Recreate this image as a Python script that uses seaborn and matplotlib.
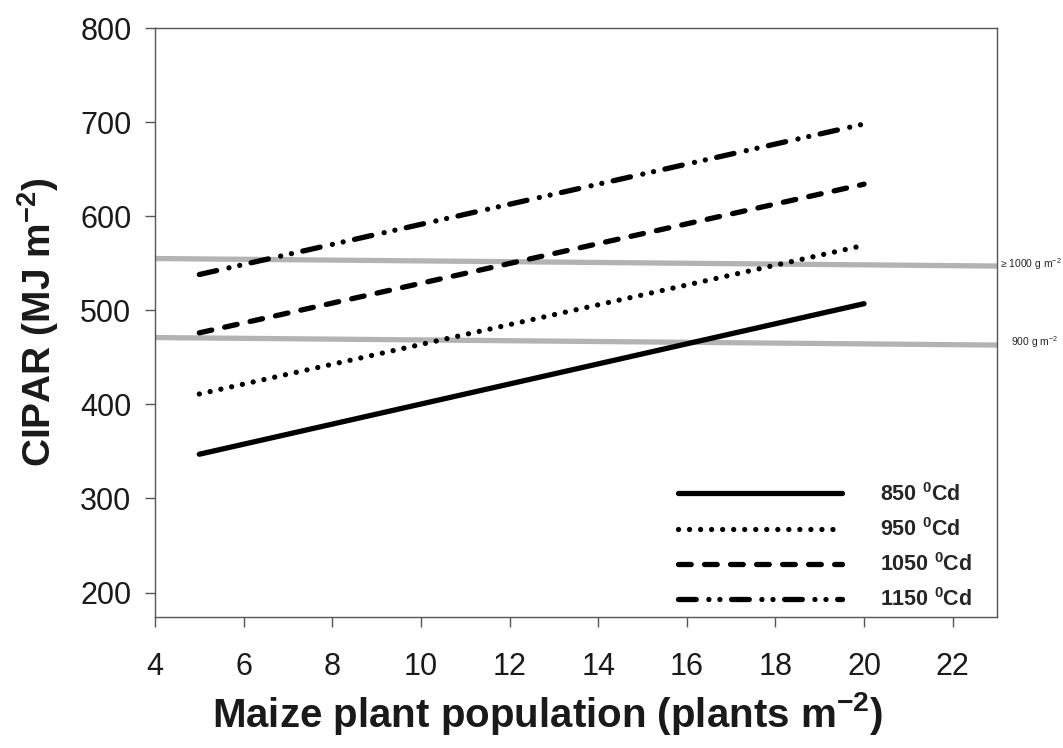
import numpy as np
import pandas as pd
import matplotlib
matplotlib.use("Agg")
import matplotlib.pyplot as plt
from matplotlib.lines import Line2D
import seaborn as sns

# ---- data ----
population = [5, 20]
thermal_time = ["850", "950", "1050", "1150"]
cipar_850 = [347, 507]
cipar_950 = [411, 569]
cipar_1050 = [476, 634]
cipar_1150 = [538, 698]
threshold_x = [4, 23]
threshold_1000 = [555, 547]
threshold_900 = [471, 463]
xticks = [4, 6, 8, 10, 12, 14, 16, 18, 20, 22]
yticks = [200, 300, 400, 500, 600, 700, 800]

sns.set_theme(style="white")
plt.rcParams['font.family'] = ['Liberation Sans', 'DejaVu Sans']
plt.rcParams['mathtext.default'] = 'regular'

df = pd.DataFrame({
    "population": population * 4,
    "cipar": cipar_850 + cipar_950 + cipar_1050 + cipar_1150,
    "tt": sum([[t] * len(population) for t in thermal_time], []),
})

fig = plt.figure(figsize=(10.63, 7.48), dpi=100)
ax = fig.add_axes([155 / 1063, 1 - 617 / 748, (997 - 155) / 1063, (617 - 28) / 748])

# grey threshold lines
gray = "#b3b3b3"
sns.lineplot(x=threshold_x, y=threshold_1000, color=gray, lw=3.8, ax=ax, zorder=1)
sns.lineplot(x=threshold_x, y=threshold_900, color=gray, lw=3.8, ax=ax, zorder=1)

lw = 3.8
dash_map = {
    "850": "",
    "950": (0.01, 2.08),
    "1050": (2.41, 2.52),
    "1150": (3.36, 2.39, 0.01, 2.08, 0.01, 2.2),
}
sns.lineplot(data=df, x="population", y="cipar", hue="tt", style="tt",
             palette=["black"] * 4, dashes=dash_map, lw=lw, legend=False,
             ax=ax, zorder=3)
for ln in ax.lines[2:]:
    ln.set_dash_capstyle("round")
    ln.set_solid_capstyle("round")

# legend
handles = []
for t in thermal_time:
    d = dash_map[t]
    h = Line2D([0], [1], color="black", lw=lw, dash_capstyle="round",
               solid_capstyle="round")
    if d:
        h.set_dashes(d)
    handles.append(h)
labels = [f"{t} $^{{0}}$Cd" for t in thermal_time]
leg = ax.legend(handles, labels, loc="upper left",
                bbox_to_anchor=(678 / 1063, 1 - 483 / 748),
                bbox_transform=fig.transFigure, frameon=False,
                handlelength=7.6, handletextpad=1.77, labelspacing=0.57,
                borderpad=0, borderaxespad=0,
                prop={"size": 15.5, "weight": "bold"})

# threshold labels
ax.text(23.06, 549, "≥ 1000 g m$^{-2}$", fontsize=7.5, va="center", ha="left",
        clip_on=False)
ax.text(23.32, 466, "900 g m$^{-2}$", fontsize=7.5, va="center", ha="left",
        clip_on=False)

ax.set_xlim(4, 23)
ax.set_ylim(174, 800)
ax.set_xticks(xticks)
ax.set_yticks(yticks)
ax.tick_params(axis="both", labelsize=22, length=7, width=1, color="#555555",
               labelcolor="#1a1a1a",
               direction="out", bottom=True, left=True, top=False, right=False)
ax.tick_params(axis="x", pad=18)
ax.tick_params(axis="y", pad=10)
for s in ax.spines.values():
    s.set_color("#555555")
    s.set_linewidth(1)
    s.set_visible(True)

ax.set_xlabel("Maize plant population (plants m$^{-2}$)", fontsize=29,
              fontweight="bold", color="#1a1a1a")
ax.xaxis.set_label_coords((547 - 155) / 842, -(690 - 617) / 589)
ax.set_ylabel("CIPAR (MJ m$^{-2}$)", fontsize=28, fontweight="bold",
              labelpad=14, color="#1a1a1a")

fig.savefig("out.png", dpi=100)
